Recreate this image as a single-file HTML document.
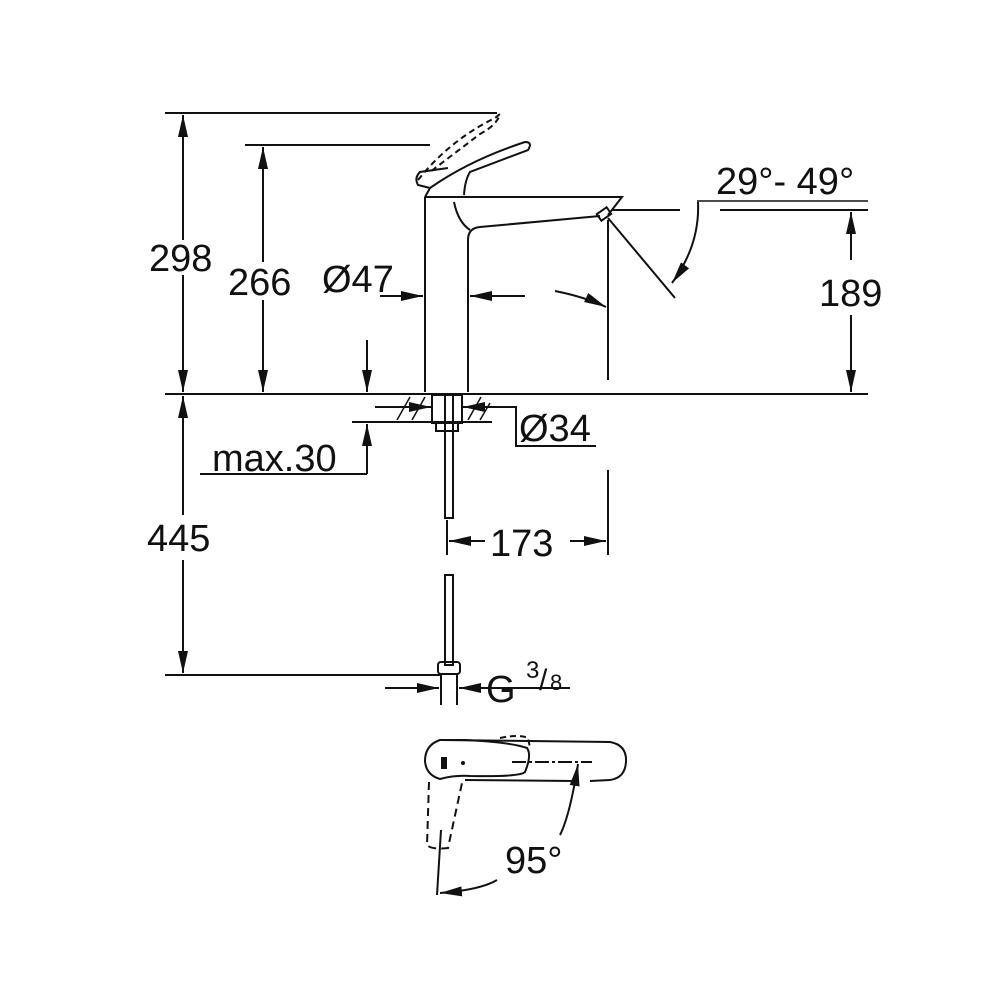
<!DOCTYPE html>
<html><head><meta charset="utf-8"><style>
html,body{margin:0;padding:0;background:#fff}
svg{display:block}
text{font-family:"Liberation Sans",Arial,sans-serif;fill:#111}
</style></head><body>
<svg width="990" height="990" viewBox="0 0 990 990" xmlns="http://www.w3.org/2000/svg">
<defs>
<marker id="a" viewBox="0 0 22 10" refX="22" refY="5" markerWidth="22" markerHeight="10" markerUnits="userSpaceOnUse" orient="auto"><path d="M0,0 L22,5 L0,10 z" fill="#111"/></marker>
</defs>
<g stroke="#111" stroke-width="2" fill="none">
<line x1="165" y1="113" x2="497" y2="113"/>
<line x1="245" y1="145" x2="430" y2="145"/>
<line x1="165" y1="394" x2="868" y2="394"/>
<line x1="165" y1="675" x2="440" y2="675"/>
<line x1="183" y1="240" x2="183" y2="115" marker-end="url(#a)"/>
<line x1="183" y1="275" x2="183" y2="392" marker-end="url(#a)"/>
<line x1="263" y1="262" x2="263" y2="147" marker-end="url(#a)"/>
<line x1="263" y1="300" x2="263" y2="392" marker-end="url(#a)"/>
<line x1="183" y1="515" x2="183" y2="396" marker-end="url(#a)"/>
<line x1="183" y1="560" x2="183" y2="673" marker-end="url(#a)"/>
<line x1="367" y1="340" x2="367" y2="392" marker-end="url(#a)"/>
<line x1="200" y1="474" x2="367" y2="474"/>
<line x1="367" y1="474" x2="367" y2="424" marker-end="url(#a)"/>
<line x1="352" y1="422" x2="492" y2="422"/>
<line x1="375" y1="407" x2="431" y2="407" marker-end="url(#a)"/>
<line x1="492" y1="407" x2="463" y2="407" marker-end="url(#a)"/>
<polyline points="490,407 516,407 516,446 596,446"/>
<line x1="397" y1="420" x2="410" y2="397" stroke-width="1.5"/>
<line x1="412" y1="420" x2="425" y2="397" stroke-width="1.5"/>
<line x1="468" y1="420" x2="481" y2="397" stroke-width="1.5"/>
<line x1="480" y1="420" x2="490" y2="403" stroke-width="1.5"/>
<rect x="432" y="395" width="30" height="28"/>
<rect x="436" y="423" width="22" height="8"/>
<rect x="445" y="395" width="8" height="123"/>
<rect x="445" y="575" width="8" height="90"/>
<rect x="438" y="662" width="22" height="12" rx="3"/>
<line x1="441" y1="674" x2="441" y2="705"/>
<line x1="457" y1="674" x2="457" y2="705"/>
<line x1="385" y1="688" x2="439" y2="688" marker-end="url(#a)"/>
<line x1="570" y1="688" x2="459" y2="688" marker-end="url(#a)"/>
<line x1="447" y1="520" x2="447" y2="555"/>
<line x1="608" y1="470" x2="608" y2="555"/>
<line x1="485" y1="541" x2="449" y2="541" marker-end="url(#a)"/>
<line x1="570" y1="541" x2="606" y2="541" marker-end="url(#a)"/>
<line x1="425" y1="197" x2="425" y2="392"/>
<line x1="468" y1="240" x2="468" y2="392"/>
<path d="M425,197 L622,197 L608,215"/>
<path d="M468,240 Q468,228 480,227 L600,216"/>
<path d="M454,202 Q458,222 470,230"/>
<rect x="598" y="210" width="12" height="8" transform="rotate(-35 604 214)"/>
<path d="M425,197 L430,188 Q470,160 525,142 Q533,142 528,150 L470,172 Q465,180 464,195"/>
<path d="M430,188 L418,185 Q414,178 420,172 L448,168"/>
<path d="M418,180 Q450,140 495,118 L500,114 Q497,125 480,134 L430,172" stroke-dasharray="6,4"/>
<line x1="380" y1="296" x2="423" y2="296" marker-end="url(#a)"/>
<line x1="525" y1="296" x2="470" y2="296" marker-end="url(#a)"/>
<path d="M555,291 Q585,297 606,307" marker-end="url(#a)"/>
<line x1="608" y1="220" x2="608" y2="380"/>
<line x1="612" y1="210" x2="680" y2="210"/>
<line x1="720" y1="210" x2="868" y2="210"/>
<line x1="697" y1="201" x2="868" y2="201" stroke-width="1.5"/>
<line x1="608" y1="218" x2="675" y2="298"/>
<path d="M698,202 Q700,245 672,283" marker-end="url(#a)"/>
<line x1="851" y1="260" x2="851" y2="212" marker-end="url(#a)"/>
<line x1="851" y1="315" x2="851" y2="392" marker-end="url(#a)"/>
<path d="M440,740 L610,742 Q627,745 626,762 Q625,778 610,780 L590,781"/>
<line x1="465" y1="780" x2="575" y2="781"/>
<path d="M440,740 Q425,745 425,761 Q426,775 440,779 Q455,775 470,776 Q520,777 525,772 Q532,755 527,748 Q510,742 465,740 Z"/>
<path d="M500,738 Q520,734 528,738 L530,748" stroke-dasharray="6,4"/>
<line x1="512" y1="762" x2="592" y2="762" stroke-dasharray="14,3,3,3"/>
<path d="M429,782 L427,845 Q432,850 448,848 L462,783" stroke-dasharray="8,5"/>
<line x1="441" y1="830" x2="437" y2="895"/>
<path d="M560,835 Q570,815 578,764" marker-end="url(#a)"/>
<path d="M497,880 Q480,890 440,893" marker-end="url(#a)"/>
</g>
<rect x="441" y="757" width="6" height="12" fill="#111"/>
<circle cx="463" cy="763" r="2" fill="#111"/>
<g font-size="38">
<text x="149" y="271">298</text>
<text x="228" y="295">266</text>
<text x="322" y="292">Ø47</text>
<text x="212" y="471">max.30</text>
<text x="519" y="441">Ø34</text>
<text x="147" y="551">445</text>
<text x="490" y="556">173</text>
<text x="819" y="306">189</text>
<text x="716" y="194">29°- 49°</text>
<text x="486" y="702">G</text>
<text x="505" y="873">95°</text>
</g>
<text x="526" y="678" font-size="24">3</text>
<text x="539" y="690" font-size="30">/</text>
<text x="550" y="690" font-size="22">8</text>
</svg>
</body></html>
